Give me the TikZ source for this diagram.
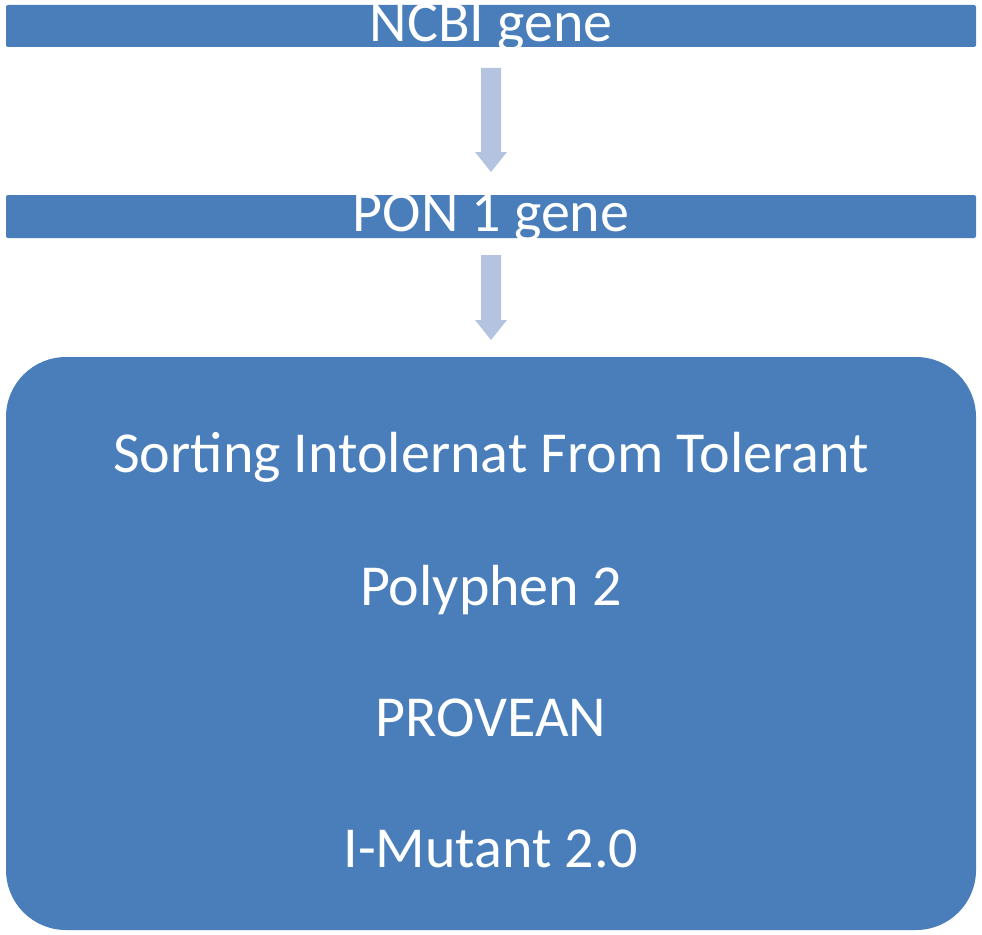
\documentclass[tikz,border=0pt]{standalone}
\usepackage{fontspec}
\setmainfont{Carlito}
\definecolor{boxblue}{HTML}{4A7EBB}
\definecolor{arrblue}{HTML}{B4C4E0}
\begin{document}
\begin{tikzpicture}[x=1pt,y=-1pt,
  bar/.style={fill=boxblue,draw=none},
  lbl/.style={text=white,font=\fontsize{58}{62}\selectfont,inner sep=0pt},
  flow/.style={fill=arrblue,draw=none}]
\useasboundingbox (0,0) rectangle (982,934);
\fill[bar,rounded corners=2] (6,5) rectangle (976,47);
\node[lbl,anchor=base] (ncbi) at (491,42) {NCBI gene};
\fill[flow] (481,68) -- (501,68) -- (501,152) -- (507,152) -- (491,172) -- (475,152) -- (481,152) -- cycle;
\fill[bar,rounded corners=2] (6,195) rectangle (976,238);
\node[lbl,anchor=base] (pon) at (491,231) {PON 1 gene};
\fill[flow] (481,255) -- (501,255) -- (501,320) -- (507,320) -- (491,340) -- (475,320) -- (481,320) -- cycle;
\fill[bar,rounded corners=60] (6,357) rectangle (976,930);
\node[lbl,anchor=base] (sift) at (491,472) {Sorting Intolernat From Tolerant};
\node[lbl,anchor=base] (poly) at (491,605) {Polyphen 2};
\node[lbl,anchor=base] (prov) at (491,736) {PROVEAN};
\node[lbl,anchor=base] (imut) at (491,867) {I-Mutant 2.0};
\end{tikzpicture}
\end{document}
